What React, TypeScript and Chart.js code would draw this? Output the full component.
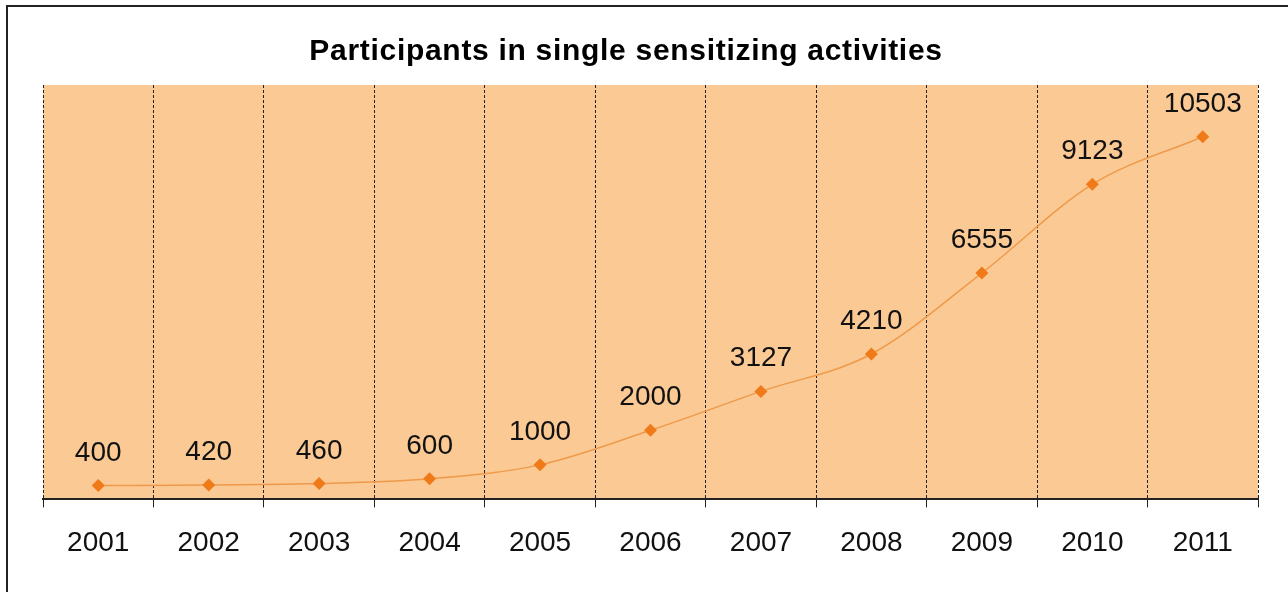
import React, { useEffect, useRef } from "react";
import { Chart, registerables } from "chart.js";

Chart.register(...registerables);

const TITLE = "Participants in single sensitizing activities";
const YEARS = ["2001", "2002", "2003", "2004", "2005", "2006", "2007", "2008", "2009", "2010", "2011"];
const PARTICIPANTS = [400, 420, 460, 600, 1000, 2000, 3127, 4210, 6555, 9123, 10503];
const Y_MIN = 0;
const Y_MAX = 12000;

const FONT = "'Liberation Sans', Arial, sans-serif";

const framePlugin = {
  id: "frame",
  beforeDraw(chart: any) {
    const { ctx, chartArea } = chart;
    ctx.save();
    ctx.fillStyle = "#ffffff";
    ctx.fillRect(0, 0, chart.width, chart.height);
    ctx.strokeStyle = "#222222";
    ctx.lineWidth = 2;
    ctx.strokeRect(7, 6, chart.width + 10, chart.height + 10);
    ctx.fillStyle = "#FBC994";
    ctx.fillRect(chartArea.left, chartArea.top, chartArea.right - chartArea.left, chartArea.bottom - chartArea.top);
    ctx.fillStyle = "#000000";
    ctx.font = `bold 30px ${FONT}`;
    try {
      (ctx as any).letterSpacing = "0.7px";
    } catch (e) {}
    ctx.textAlign = "center";
    ctx.textBaseline = "alphabetic";
    ctx.fillText(TITLE, 626, 60);
    ctx.restore();
  },
};

const labelPlugin = {
  id: "pointLabels",
  afterDatasetsDraw(chart: any) {
    const { ctx } = chart;
    const meta = chart.getDatasetMeta(0);
    const data = chart.data.datasets[0].data as number[];
    ctx.save();
    ctx.fillStyle = "#111111";
    ctx.font = `28px ${FONT}`;
    ctx.textAlign = "center";
    ctx.textBaseline = "alphabetic";
    meta.data.forEach((pt: any, i: number) => {
      ctx.fillText(String(data[i]), pt.x, pt.y - 25);
    });
    ctx.restore();
  },
};

export default function App() {
  const ref = useRef<HTMLCanvasElement>(null);
  useEffect(() => {
    if (!ref.current) return;
    const chart = new Chart(ref.current, {
      type: "line",
      data: {
        labels: YEARS,
        datasets: [
          {
            data: PARTICIPANTS,
            borderColor: "#EE9A4A",
            borderWidth: 1.5,
            tension: 0.3,
            cubicInterpolationMode: "monotone",
            pointStyle: "rectRot",
            pointRadius: 6.5,
            pointBackgroundColor: "#F07A18",
            pointBorderColor: "#F07A18",
            pointBorderWidth: 0,
          },
        ],
      },
      options: {
        animation: false,
        responsive: false,
        devicePixelRatio: 1,
        layout: { padding: { left: 43, right: 30, top: 85, bottom: 13 } },
        plugins: {
          legend: { display: false },
          title: { display: false },
          tooltip: { enabled: false },
        },
        scales: {
          y: {
            display: false,
            min: Y_MIN,
            max: Y_MAX,
          },
          x: {
            offset: true,
            grid: {
              offset: true,
              color: "#222222",
              lineWidth: 1,
              drawTicks: true,
              tickLength: 8,
              tickBorderDash: [],
              tickColor: "#222222",
            } as any,
            border: { display: true, color: "#222222", width: 2, dash: [3, 2] },
            ticks: {
              color: "#111111",
              font: { family: FONT, size: 28 },
              padding: 19,
              maxRotation: 0,
            },
          },
        },
      } as any,
      plugins: [framePlugin, labelPlugin],
    });
    return () => chart.destroy();
  }, []);
  return (
    <div style={{ position: "fixed", left: 0, top: 0, width: 1288, height: 592 }}>
      <canvas ref={ref} width={1288} height={592} style={{ width: 1288, height: 592 }} />
    </div>
  );
}
